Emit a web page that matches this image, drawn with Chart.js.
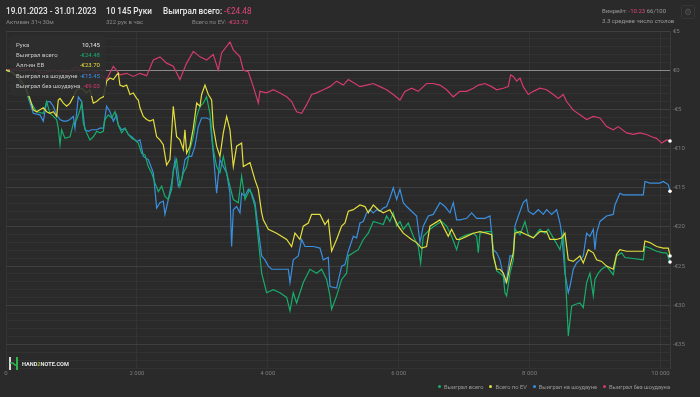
<!DOCTYPE html>
<html>
<head>
<meta charset="utf-8">
<script src="https://cdn.jsdelivr.net/npm/chart.js@4.4.0/dist/chart.umd.min.js"></script>
<style>
  body { margin: 0; background: #2a2a2a; font-family: Roboto, "Noto Sans", sans-serif; overflow: hidden; }
  #wrap { position: relative; width: 700px; height: 397px; }
  canvas { position: absolute; left: 0; top: 0; }
  .t { position: absolute; white-space: nowrap; line-height: 1; }
  .big { font-size: 8.2px; font-weight: 500; color: #e9e9e9; }
  .small { font-size: 6px; color: #8a8a8a; }
  .neg { color: #e0467c; font-weight: 400; }
  #tip { position: absolute; left: 10px; top: 35px; width: 96px; height: 61px; background: rgba(46,46,46,0.88); border-radius: 3px; }
  #tip .row { position: absolute; left: 6px; right: 6px; height: 10px; font-size: 6px; color: #c9c9c9; line-height: 10px; }
  #tip .row span { position: absolute; right: 0; }
  #legend { position: absolute; right: 30px; top: 384px; display: flex; gap: 6px; font-size: 5.7px; color: #9a9a9a; line-height: 7px; }
  #legend i { display: inline-block; width: 3px; height: 3px; border-radius: 50%; margin-right: 3px; vertical-align: 1px; }
  #logo { position: absolute; left: 9px; top: 355px; }
</style>
</head>
<body>
<div id="wrap">
  <canvas id="chart" width="700" height="397"></canvas>

  <div class="t big" style="left:6px;top:7px">19.01.2023 - 31.01.2023</div>
  <div class="t small" style="left:6px;top:19px">Активен 31ч 30м</div>
  <div class="t big" style="left:106px;top:7px">10 145 Руки</div>
  <div class="t small" style="left:106px;top:19px">322 рук в час</div>
  <div class="t big" style="left:163px;top:7px">Выиграл всего: <span class="neg">-€24.48</span></div>
  <div class="t small" style="right:452px;top:19px">Всего по EV: <span class="neg">-€23.70</span></div>
  <div class="t small" style="left:602px;top:8px;color:#9a9a9a">Винрейт: <span class="neg">-10.23</span> 66/100</div>
  <div class="t small" style="left:602px;top:18px;color:#9a9a9a">3.3 среднее число столов</div>
  <div class="t" style="left:681px;top:5px;width:12px;height:12px;border:1px solid #363636;border-radius:2px;color:#555;font-size:9px;text-align:center;line-height:12px">⚙</div>

  <div id="tip"></div>
  <div id="legend"></div>

  <div id="logo">
    <svg width="70" height="13" viewBox="0 0 70 13">
      <rect x="0" y="0" width="2" height="13" fill="#d8d8d8"/>
      <rect x="7" y="0" width="2" height="13" fill="#2db34a"/>
      <path d="M1 6 L4 6 L6 8 L8 8" stroke="#2db34a" stroke-width="1.6" fill="none"/>
      <text x="13" y="9" font-family="Roboto" font-weight="700" font-size="5.6" fill="#e8e8e8">HAND<tspan fill="#9bc53d">2</tspan>NOTE.COM</text>
    </svg>
  </div>
</div>

<script>
var xTicks = [0, 2000, 4000, 6000, 8000, 10000];

// Выиграл всего
var totalHands = [0,100,200,300,360,417,468,570,621,672,723,774,799,825,850,901,978,1029,1080,1130,1156,1181,1232,1283,1334,1385,1436,1487,1512,1563,1614,1665,1716,1767,1818,1869,1920,1971,2021,2072,2123,2174,2225,2276,2327,2378,2429,2480,2531,2556,2607,2658,2709,2760,2811,2862,2913,2964,3014,3065,3116,3167,3218,3269,3320,3371,3422,
  3473,3549,3600,3651,3728,3804,3855,3906,3982,4084,4186,4288,4339,4389,4440,4491,4542,4644,4746,4822,4899,4950,4975,5051,5128,5204,5230,5306,5382,5459,5535,5612,5688,5764,5815,5866,5917,5968,6019,6070,6146,6223,6299,6335,6375,6477,6579,6655,6732,6808,6885,6935,
  7038,7140,7191,7216,7242,7343,7420,7445,7496,7547,7598,7623,7649,7700,7751,7776,7853,7929,7980,8056,8158,8234,8285,8362,8464,8515,8565,8591,8642,8693,8769,8820,8871,8922,8973,8998,9049,9100,9176,9278,9329,9406,9456,9737,9762,9838,9940,10042,10093,10145];
var totalWon = [0,-0.3,-1.2,-2.4,-3.8,-4.6,-5.3,-5.5,-4.0,-5.5,-5.9,-6.3,-7.4,-9.5,-7.6,-8.7,-8.5,-6.8,-6.3,-5.1,-4.2,-6.8,-8.0,-8.9,-8.5,-7.8,-8.0,-7.8,-6.3,-5.7,-6.1,-5.3,-7.0,-8.0,-7.4,-8.2,-8.7,-8.9,-9.3,-10.6,-10.8,-12.3,-13.1,-14.4,-15.5,-14.8,-16.1,-16.5,-15.2,-12.7,-11.4,-14.8,-13.1,-12.3,-10.1,-8.5,-5.9,-4.6,-4.2,-3.4,-5.5,-10.1,-12.3,-13.1,-11.0,-13.1,-14.8,
  -16.5,-16.9,-13.5,-16.5,-15.2,-17.4,-21.6,-25.9,-28.4,-28.0,-28.4,-29.0,-30.7,-28.4,-29.7,-28.4,-27.1,-25.4,-25.9,-25.4,-26.7,-28.8,-30.5,-28.8,-26.7,-25.9,-23.7,-23.3,-22.9,-21.6,-20.8,-19.3,-19.5,-19.7,-18.6,-19.3,-18.2,-19.9,-19.3,-20.3,-19.5,-21.2,-22.5,-24.6,-21.2,-20.3,-19.7,-19.3,-19.9,-21.2,-22.9,-21.4,
  -21.0,-20.8,-21.2,-23.3,-20.8,-20.6,-20.6,-23.3,-25.6,-25.9,-26.3,-28.4,-28.8,-25.9,-24.2,-20.3,-21.0,-19.3,-21.0,-21.4,-20.3,-20.8,-20.3,-21.4,-22.9,-20.8,-29.3,-33.9,-30.1,-29.9,-29.7,-30.3,-27.1,-25.9,-28.8,-26.7,-25.9,-25.4,-25.0,-26.1,-23.7,-23.3,-23.9,-24.2,-22.5,-22.7,-23.1,-23.3,-23.3,-24.48];

// Всего по EV
var evHands = [0,100,200,300,360,417,468,519,570,621,672,723,774,799,825,876,927,978,1029,1080,1156,1232,1283,1334,1385,1436,1487,1538,1589,1640,1690,1716,1741,1792,1843,1894,1945,1996,2021,2047,2098,2149,2200,2251,2302,2352,2403,2454,2505,2556,2607,2658,2709,2734,2760,2811,2862,2913,2964,2989,3040,3091,3142,3167,3218,3269,3320,3371,3422,
  3473,3524,3600,3626,3728,3804,3855,3906,3931,4008,4135,4288,4364,4415,4491,4542,4619,4670,4797,4873,4924,4975,5051,5128,5179,5230,5306,5408,5484,5535,5612,5688,5764,5815,5866,5917,5994,6070,6197,6274,6350,6426,6477,6630,6757,6808,6885,
  6936,7038,7140,7242,7343,7420,7445,7496,7547,7598,7649,7700,7751,7776,7853,7954,8056,8158,8260,8311,8413,8489,8540,8591,8667,8769,8820,8896,8973,9024,9100,9176,9278,9329,9380,9482,9737,9762,9838,9940,10042,10120,10145];
var evWon = [0,-0.3,-1.0,-2.2,-3.5,-5.05,-5.3,-5.05,-4.8,-5.3,-5.5,-5.3,-5.9,-3.8,-3.6,-4.2,-4.6,-4.2,-3.4,-2.5,-2.3,-2.9,-2.5,-4.2,-4.0,-3.6,-3.4,-1.4,-1.0,-1.2,-0.6,-0.4,-1.9,-2.1,-1.9,-3.1,-2.9,-3.6,-3.8,-4.8,-5.9,-6.3,-6.5,-6.3,-8.5,-8.9,-9.5,-12.1,-11.4,-4.6,-8.5,-8.9,-10.1,-7.6,-10.6,-9.7,-7.4,-4.2,-4.6,-3.1,-1.9,-3.1,-3.8,-7.2,-9.7,-11.0,-8.0,-5.9,-7.6,
  -12.3,-9.7,-9.3,-12.3,-11.8,-14.0,-15.2,-18.2,-19.1,-20.3,-20.8,-21.6,-22.5,-20.8,-21.6,-19.9,-19.5,-18.4,-18.4,-19.7,-19.1,-23.1,-21.6,-19.9,-19.5,-18.0,-17.8,-17.2,-17.4,-18.2,-17.2,-17.8,-18.2,-18.0,-17.8,-18.6,-19.9,-20.8,-21.6,-22.0,-22.7,-22.5,-19.9,-19.1,-21.2,-20.3,-21.6,
  -21.6,-21.2,-20.8,-20.6,-20.8,-21.0,-23.7,-25.4,-25.4,-25.9,-27.1,-25.0,-23.3,-20.8,-20.6,-21.0,-21.4,-20.6,-20.6,-21.6,-21.6,-21.4,-20.8,-24.2,-24.4,-23.7,-24.6,-22.9,-23.3,-24.2,-24.4,-25.0,-25.4,-23.5,-22.9,-23.1,-23.1,-21.8,-22.0,-22.5,-22.7,-22.7,-23.70];

// Выиграл на шоудауне
var sdHands = [0,100,200,300,360,417,519,570,621,672,723,774,825,876,927,978,1029,1054,1105,1156,1207,1257,1308,1385,1436,1487,1538,1589,1640,1690,1716,1767,1818,1869,1920,1996,2047,2098,2174,2251,2302,2352,2403,2429,2480,2531,2582,2633,2683,2734,2785,2836,2887,2938,2989,3065,3116,3167,3218,3269,3320,3371,3422,3447,
  3473,3524,3575,3600,3651,3702,3753,3804,3855,3906,3957,4008,4059,4186,4313,4339,4389,4466,4517,4568,4695,4797,4848,4924,4950,5051,5128,5179,5230,5306,5357,5408,5459,5510,5561,5612,5662,5713,5764,5815,5866,5917,5968,6019,6070,6121,6197,6274,6325,6375,6452,6528,6630,6706,6783,6834,6885,
  6936,7038,7114,7191,7318,7394,7445,7496,7547,7623,7649,7700,7751,7776,7827,7903,7954,7980,8056,8133,8209,8260,8336,8413,8464,8489,8540,8591,8616,8667,8718,8769,8820,8871,8922,8973,8998,9024,9075,9176,9278,9304,9380,9431,9737,9762,9838,9991,10042,10118,10145];
var sdWon = [0,-0.3,-1.2,-2.5,-4.0,-5.5,-5.7,-6.5,-4.0,-4.0,-4.6,-5.7,-6.3,-6.5,-6.5,-6.3,-5.9,-7.4,-3.4,-4.0,-7.6,-7.8,-7.6,-7.6,-7.4,-7.4,-4.6,-5.3,-6.5,-5.7,-7.0,-7.6,-7.4,-8.2,-8.5,-9.1,-8.9,-11.0,-11.4,-13.1,-17.6,-16.9,-16.7,-18.4,-16.5,-14.4,-11.4,-14.8,-14.0,-11.4,-11.0,-11.0,-9.7,-7.2,-6.1,-6.1,-6.3,-10.6,-15.7,-11.4,-12.3,-13.1,-15.7,-22.5,
  -17.8,-17.4,-18.2,-15.7,-16.1,-15.2,-15.7,-16.9,-20.3,-23.7,-24.2,-25.0,-25.4,-25.4,-25.4,-27.1,-24.2,-23.7,-21.6,-22.5,-22.5,-22.7,-24.2,-23.9,-27.6,-27.8,-25.0,-24.8,-23.1,-21.2,-21.4,-19.5,-19.3,-18.2,-17.8,-18.2,-17.8,-18.0,-17.6,-17.4,-16.3,-15.0,-16.5,-15.2,-16.9,-17.4,-18.0,-18.6,-22.0,-19.9,-18.6,-18.4,-16.9,-17.4,-18.2,-16.9,-19.1,
  -19.1,-18.9,-18.2,-18.9,-18.9,-18.6,-22.9,-23.3,-24.2,-27.1,-26.7,-23.7,-23.7,-19.9,-18.6,-16.9,-16.5,-18.0,-18.4,-17.8,-18.4,-17.8,-18.4,-17.8,-19.5,-20.8,-25.9,-28.4,-27.6,-25.4,-24.6,-24.2,-23.7,-20.8,-21.2,-20.3,-22.9,-20.8,-19.3,-18.6,-18.4,-17.2,-15.7,-15.9,-15.9,-14.2,-14.4,-14.4,-14.2,-14.6,-15.45];

// Выиграл без шоудауна
var nsdHands = [0,214,418,570,723,927,1080,1232,1385,1538,1640,1741,1843,1945,2047,2149,2251,2352,2454,2556,2658,2760,2862,2964,3065,3167,3243,3294,3422,3473,3575,3626,3702,3778,3855,3880,
  3982,4084,4186,4288,4364,4440,4517,4593,4670,4746,4848,4950,5051,5153,5230,5332,5408,5510,5612,5713,5815,5917,6019,6095,6197,6299,6426,6528,6630,6732,6834,6935,
  7038,7140,7216,7318,7420,7496,7598,7674,7710,7751,7802,7853,7903,7980,8056,8158,8260,8362,8438,8515,8565,8667,8769,8871,8973,9075,9176,9278,9354,9482,9584,9686,9788,9864,9940,10017,10093,10145];
var nsdWon = [0,0.25,0,-0.4,0,-0.3,0.4,-0.6,-0.2,-1.2,0.5,-0.6,-0.4,-0.8,-0.4,-0.7,1.3,1.7,0.9,0.5,-1.2,0.9,2.4,1.7,1.3,2.0,0,2.2,3.6,2.6,1.7,0,-0.2,-2.1,-4.2,-2.7,
  -2.9,-2.5,-2.9,-3.4,-4.0,-5.3,-5.5,-4.4,-3.1,-2.9,-2.5,-2.1,-1.4,-1.9,-1.2,-1.7,-2.1,-1.9,-1.7,-2.1,-2.5,-3.1,-3.8,-2.7,-2.3,-2.7,-1.7,-1.7,-1.9,-2.5,-3.4,-2.7,
  -2.7,-2.3,-1.9,-1.7,-2.1,-2.5,-2.3,-2.1,-0.6,-0.8,-1.4,-1.0,-2.1,-3.1,-2.7,-2.3,-2.5,-3.1,-3.6,-3.1,-4.0,-5.1,-5.7,-6.3,-5.9,-6.1,-7.2,-7.6,-7.2,-8.0,-8.2,-8.0,-8.2,-8.5,-8.7,-9.3,-8.9,-9.03];

var seriesNames = ["Выиграл всего", "Всего по EV", "Выиграл на шоудауне", "Выиграл без шоудауна"];
var seriesColors = ["#17ad6b", "#e3de3c", "#3a8fdf", "#d43a70"];
var seriesHands = [totalHands, evHands, sdHands, nsdHands];
var seriesData = [totalWon, evWon, sdWon, nsdWon];
var drawOrder = [1, 0, 2, 3];

var tipRows = [["Рука", "10,145", "#e6e6e6"], ["Выиграл всего", "-€24.48", seriesColors[0]],
  ["Алл-ин ЕВ", "-€23.70", seriesColors[1]], ["Выиграл на шоудауне", "-€15.45", seriesColors[2]],
  ["Выиграл без шоудауна", "-€9.03", seriesColors[3]]];

// fake tooltip box
var tip = document.getElementById("tip");
for (var r = 0; r < tipRows.length; r++) {
  var row = document.createElement("div");
  row.className = "row";
  row.style.top = (5 + r * 10.2) + "px";
  row.innerHTML = tipRows[r][0] + '<span style="color:' + tipRows[r][2] + '">' + tipRows[r][1] + "</span>";
  tip.appendChild(row);
}

// legend
var legend = document.getElementById("legend");
for (var k = 0; k < seriesNames.length; k++) {
  var item = document.createElement("div");
  item.innerHTML = '<i style="background:' + seriesColors[k] + '"></i>' + seriesNames[k];
  legend.appendChild(item);
}

function euro(v) {
  if (v < 0) return "-€" + (-v);
  return "€" + v;
}

var datasets = [];
for (var s = 0; s < seriesData.length; s++) {
  var pts = [];
  var hs = seriesHands[s];
  for (var j = 0; j < hs.length; j++) pts.push({ x: hs[j], y: seriesData[s][j] });
  datasets.push({
    label: seriesNames[s],
    data: pts,
    borderColor: seriesColors[s],
    borderWidth: 1.2,
    order: drawOrder[s],
    tension: 0,
    clip: 4,
    pointRadius: function (c) { return c.dataIndex === c.dataset.data.length - 1 ? 1.8 : 0; },
    pointBackgroundColor: "#ffffff",
    pointBorderWidth: 0
  });
}

Chart.defaults.font.family = "Roboto";

new Chart(document.getElementById("chart"), {
  type: "line",
  data: { datasets: datasets },
  options: {
    responsive: false,
    animation: false,
    layout: { padding: { top: 31, left: 6, right: 2, bottom: 17 } },
    plugins: { legend: { display: false }, tooltip: { enabled: false } },
    scales: {
      x: {
        type: "linear",
        min: 0,
        max: 10145,
        afterFit: function (scale) { scale.height = 12; },
        // fixed tick positions, the auto step would split the range evenly
        afterBuildTicks: function (scale) {
          scale.ticks = xTicks.map(function (v) { return { value: v }; });
        },
        grid: { color: "#333333", drawTicks: false },
        border: { display: false },
        ticks: {
          padding: 2,
          color: "#7c7c7c",
          font: { size: 6 },
          maxRotation: 0,
          autoSkip: false,
          callback: function (v) { return v === 0 ? "0" : (v / 1000) + " 000"; }
        }
      },
      y: {
        position: "right",
        min: -38,
        max: 5,
        afterFit: function (scale) { scale.width = 28; },
        grid: {
          drawTicks: false,
          color: function (c) {
            var v = c.tick.value;
            if (v === 0) return "#8a8a8a";
            if (v % 5 === 0) return "#3f3f3f";
            return "#323232";
          }
        },
        border: { display: true, color: "#3a3a3a" },
        ticks: {
          stepSize: 1,
          autoSkip: false,
          padding: 3,
          color: "#7c7c7c",
          font: { size: 6 },
          callback: function (v) { return v % 5 === 0 ? euro(v) : ""; }
        }
      }
    }
  }
});
</script>
</body>
</html>
